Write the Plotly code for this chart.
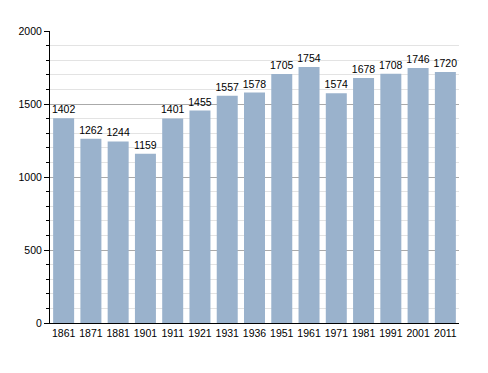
import plotly.graph_objects as go

years = ["1861", "1871", "1881", "1901", "1911", "1921", "1931", "1936", "1951", "1961", "1971", "1981", "1991", "2001", "2011"]
population = [1402, 1262, 1244, 1159, 1401, 1455, 1557, 1578, 1705, 1754, 1574, 1678, 1708, 1746, 1720]

fig = go.Figure(go.Bar(
    x=years, y=population,
    text=[str(v) for v in population], textposition="outside",
    textfont=dict(size=10.5, color="black", family="Liberation Sans, Arial"),
    constraintext="none",
    marker=dict(color="#9ab2cc", line=dict(width=0)),
    cliponaxis=False,
))
fig.update_layout(
    width=480, height=365,
    margin=dict(l=42, r=29, t=23, b=50, autoexpand=False),
    plot_bgcolor="white", paper_bgcolor="white",
    bargap=0.23,
    showlegend=False,
    font=dict(family="Liberation Sans, Arial", size=10.5, color="black"),
    xaxis=dict(type="category", showline=True, linecolor="black", linewidth=1,
               ticks="", showgrid=False, tickfont=dict(size=10.5), automargin=False),
    yaxis=dict(range=[0, 2000], tickvals=[0, 500, 1000, 1500, 2000],
               showline=True, linecolor="black", linewidth=1,
               ticks="outside", ticklen=5, tickcolor="black",
               gridcolor="#aaaaaa", gridwidth=1,
               minor=dict(dtick=100, showgrid=True, gridcolor="#e3e3e3",
                          ticks="outside", ticklen=3, tickcolor="black"),
               zeroline=False, tickfont=dict(size=10.5), automargin=False),
)
fig.write_html("out.html")
